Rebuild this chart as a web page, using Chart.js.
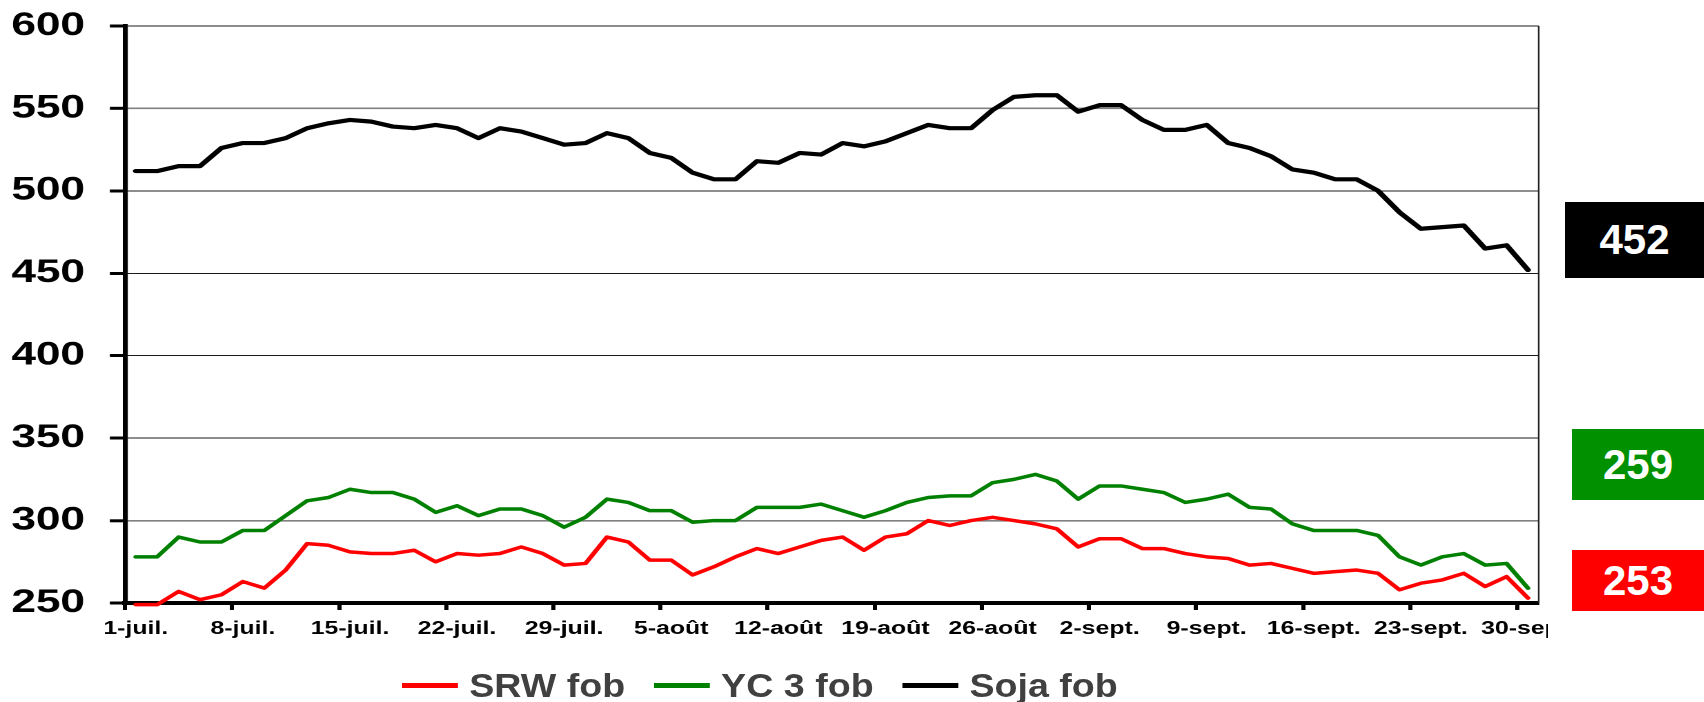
<!DOCTYPE html>
<html lang="fr">
<head>
<meta charset="utf-8">
<title>SRW / YC 3 / Soja fob</title>
<script src="https://cdn.jsdelivr.net/npm/chart.js@4.4.1/dist/chart.umd.min.js"></script>
<style>
  html, body { margin: 0; padding: 0; background: #fff; }
  body { width: 1704px; height: 702px; position: relative; overflow: hidden; font-family: 'Liberation Sans', Arial, sans-serif; }
  /* the source picture is stretched horizontally, so the chart is too */
  #clip { position: absolute; left: 0; top: 0; width: 1548px; height: 702px; overflow: hidden; }
  #stretch { width: 1155px; height: 702px; transform: scaleX(1.38); transform-origin: 0 0; }
  .last-box { position: absolute; right: 0; color: #fff; font-weight: bold; font-size: 42px; display: flex; align-items: center; justify-content: center; }
  #legend { position: absolute; left: 402px; top: 669px; height: 33px; display: flex; align-items: center; gap: 25px; transform: scaleX(1.14); transform-origin: 0 0; white-space: nowrap; }
  #legend .item { display: flex; align-items: center; gap: 10px; }
  #legend .swatch { width: 49px; height: 5px; }
  #legend .text { font-size: 33px; line-height: 33px; font-weight: bold; color: #404040; }
</style>
</head>
<body>
<div id="clip"><div id="stretch"><canvas id="chart-fob"></canvas></div></div>
<div id="legend"></div>
<div class="last-box" id="box-soja" style="left:1565px;top:202px;height:76px;background:#000"></div>
<div class="last-box" id="box-yc" style="left:1572px;top:429px;height:71px;background:#009000"></div>
<div class="last-box" id="box-srw" style="left:1572px;top:550px;height:61px;background:#ff0000"></div>
<script>
// business days, 1 July -> 30 Sept
const dates = [
  '1-juil.', '2-juil.', '3-juil.', '4-juil.', '5-juil.',
  '8-juil.', '9-juil.', '10-juil.', '11-juil.', '12-juil.',
  '15-juil.', '16-juil.', '17-juil.', '18-juil.', '19-juil.',
  '22-juil.', '23-juil.', '24-juil.', '25-juil.', '26-juil.',
  '29-juil.', '30-juil.', '31-juil.', '1-août', '2-août',
  '5-août', '6-août', '7-août', '8-août', '9-août',
  '12-août', '13-août', '14-août', '15-août', '16-août',
  '19-août', '20-août', '21-août', '22-août', '23-août',
  '26-août', '27-août', '28-août', '29-août', '30-août',
  '2-sept.', '3-sept.', '4-sept.', '5-sept.', '6-sept.',
  '9-sept.', '10-sept.', '11-sept.', '12-sept.', '13-sept.',
  '16-sept.', '17-sept.', '18-sept.', '19-sept.', '20-sept.',
  '23-sept.', '24-sept.', '25-sept.', '26-sept.', '27-sept.',
  '30-sept.'
];

const srwFob = [
  249, 249, 257, 252, 255, 263, 259, 270, 286, 285,
  281, 280, 280, 282, 275, 280, 279, 280, 284, 280,
  273, 274, 290, 287, 276, 276, 267, 272, 278, 283,
  280, 284, 288, 290, 282, 290, 292, 300, 297, 300,
  302, 300, 298, 295, 284, 289, 289, 283, 283, 280,
  278, 277, 273, 274, 271, 268, 269, 270, 268, 258,
  262, 264, 268, 260, 266, 253
];

const ycFob = [
  278, 278, 290, 287, 287, 294, 294, 303, 312, 314,
  319, 317, 317, 313, 305, 309, 303, 307, 307, 303,
  296, 302, 313, 311, 306, 306, 299, 300, 300, 308,
  308, 308, 310, 306, 302, 306, 311, 314, 315, 315,
  323, 325, 328, 324, 313, 321, 321, 319, 317, 311,
  313, 316, 308, 307, 298, 294, 294, 294, 291, 278,
  273, 278, 280, 273, 274, 259
];

const sojaFob = [
  512, 512, 515, 515, 526, 529, 529, 532, 538, 541,
  543, 542, 539, 538, 540, 538, 532, 538, 536, 532,
  528, 529, 535, 532, 523, 520, 511, 507, 507, 518,
  517, 523, 522, 529, 527, 530, 535, 540, 538, 538,
  549, 557, 558, 558, 548, 552, 552, 543, 537, 537,
  540, 529, 526, 521, 513, 511, 507, 507, 500, 487,
  477, 478, 479, 465, 467, 452
];

const yMin = 250, yMax = 600, yStep = 50;
const labelEvery = 5;

const fontFamily = "'Liberation Sans', Arial, sans-serif";

// right edge of the plot frame
const frameRight = {
  id: 'frameRight',
  beforeDatasetsDraw(chart) {
    const { ctx, chartArea } = chart;
    ctx.save();
    ctx.strokeStyle = '#222';
    ctx.lineWidth = 1.2;
    ctx.beginPath();
    ctx.moveTo(chartArea.right, chartArea.top);
    ctx.lineTo(chartArea.right, chartArea.bottom);
    ctx.stroke();
    ctx.restore();
  }
};

function lineSet(label, data, color, width) {
  return {
    label: label,
    data: data,
    borderColor: color,
    backgroundColor: color,
    borderWidth: width,
    pointRadius: 0,
    tension: 0,
    borderJoinStyle: 'round',
    borderCapStyle: 'round',
    clip: false
  };
}

const chart = new Chart(document.getElementById('chart-fob'), {
  type: 'line',
  data: {
    labels: dates,
    datasets: [
      lineSet('SRW fob', srwFob, '#ff0000', 3.5),
      lineSet('YC 3 fob', ycFob, '#008000', 3.5),
      lineSet('Soja fob', sojaFob, '#000000', 4.2)
    ]
  },
  plugins: [frameRight],
  options: {
    responsive: true,
    maintainAspectRatio: false,
    animation: false,
    devicePixelRatio: 2,
    layout: { padding: { top: 25, right: 40, bottom: 52, left: 0 } },
    plugins: {
      tooltip: { enabled: false },
      legend: { display: false }
    },
    scales: {
      x: {
        offset: true,
        afterFit: (scale) => { scale.height = 47; },
        grid: {
          offset: true,
          drawOnChartArea: false,
          tickLength: 7,
          tickWidth: 3,
          tickColor: (ctx) => (ctx.index % labelEvery === 0 ? '#000' : 'rgba(0,0,0,0)')
        },
        border: { display: true, color: '#000', width: 4 },
        ticks: {
          autoSkip: false,
          maxRotation: 0,
          padding: 8,
          color: '#000',
          font: { family: fontFamily, size: 18, weight: 'bold' },
          callback: function(value, index) {
            return index % labelEvery === 0 ? this.getLabelForValue(value) : '';
          }
        }
      },
      y: {
        min: yMin,
        max: yMax,
        afterFit: (scale) => { scale.width = 90.6; },
        grid: {
          color: (ctx) => ([550, 300].includes(ctx.tick && ctx.tick.value) ? '#808080' : '#1a1a1a'),
          lineWidth: (ctx) => ([550, 300].includes(ctx.tick && ctx.tick.value) ? 1.6 : 1),
          tickLength: 11,
          tickWidth: 3,
          tickColor: '#000'
        },
        border: { display: true, color: '#000', width: 3.6 },
        ticks: {
          stepSize: yStep,
          padding: 18,
          color: '#000',
          font: { family: fontFamily, size: 32, weight: 'bold', lineHeight: 0.5 }
        }
      }
    }
  }
});

// legend below the chart, built from the chart's own legend items
const legendBox = document.getElementById('legend');
chart.options.plugins.legend.labels.generateLabels(chart).forEach(item => {
  legendBox.insertAdjacentHTML('beforeend', `
    <div class="item">
      <div class="swatch" style="background:${item.strokeStyle}"></div>
      <div class="text">${item.text}</div>
    </div>`);
});

// last values in the coloured boxes on the right
document.getElementById('box-soja').textContent = sojaFob[sojaFob.length - 1];
document.getElementById('box-yc').textContent = ycFob[ycFob.length - 1];
document.getElementById('box-srw').textContent = srwFob[srwFob.length - 1];
</script>
</body>
</html>
